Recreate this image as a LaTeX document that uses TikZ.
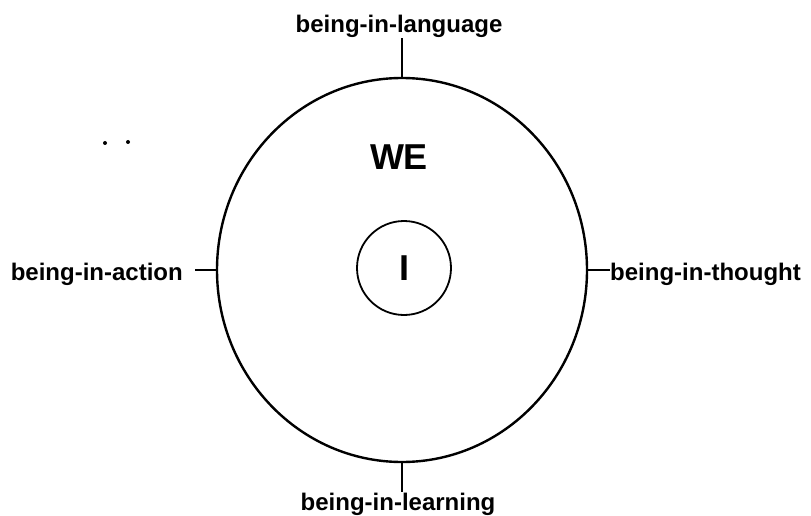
\documentclass[tikz,border=0pt]{standalone}
\usepackage{fontspec}
\setmainfont{Liberation Sans}
\usetikzlibrary{shapes.geometric,positioning}

\begin{document}
\begin{tikzpicture}[
    x=1pt, y=-1pt,
    ring/.style={ellipse, draw, line width=2.4pt, minimum width=370pt, minimum height=384pt, inner sep=0pt},
    self/.style={circle, draw, line width=1.8pt, minimum size=94pt, inner sep=0pt, font=\fontsize{36}{40}\selectfont\bfseries},
    lbl/.style={font=\fontsize{24}{28}\selectfont\bfseries, inner sep=0pt},
    big/.style={font=\fontsize{36}{40}\selectfont\bfseries, inner sep=0pt},
    tick/.style={line width=1.6pt},
]
    \useasboundingbox (0,0) rectangle (811,516);

    \node[ring] (we) at (402,270) {};
    \node[self] (me) at (404,268) {I};
    \node[big] (wetxt) at (399,157) {WE};

    \node[lbl, anchor=base] (lang) at (399,33) {being-in-language};
    \node[lbl, anchor=base east] (act) at (183,280) {being-in-action};
    \node[lbl, anchor=base west] (thought) at (610,280) {being-in-thought};
    \node[lbl, anchor=base] (learn) at (398,510) {being-in-learning};

    \draw[tick] (we.north) -- (we.north |- lang.south);
    \draw[tick] (we.south) -- (we.south |- learn.north);
    \draw[tick] (we.west) -- ([xshift=12pt]we.west -| act.east);
    \draw[tick] (we.east) -- (we.east -| thought.west);

    % stray marks
    \fill (105,143) circle (2);
    \fill (128,142) circle (2);
\end{tikzpicture}
\end{document}
